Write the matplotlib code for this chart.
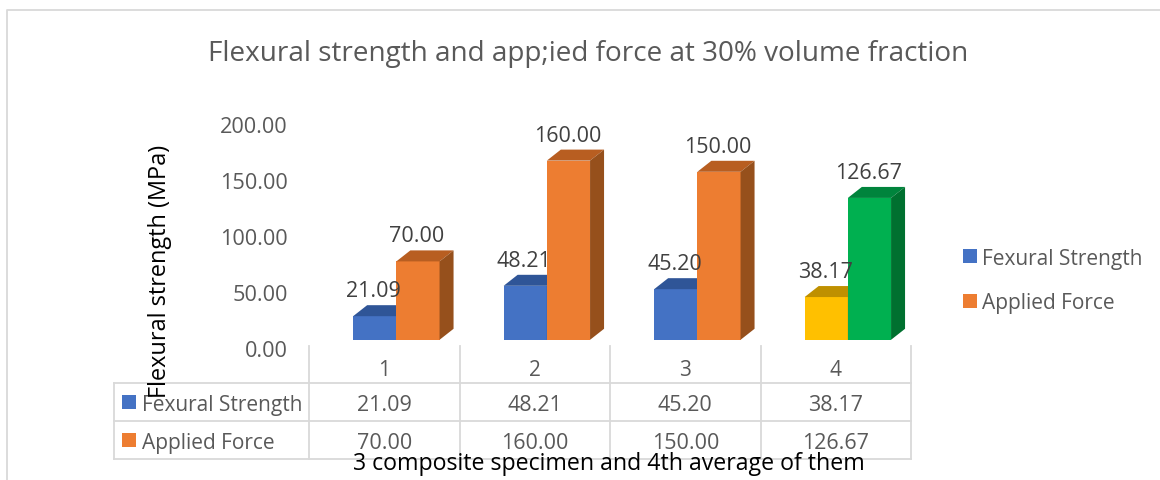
import matplotlib
matplotlib.use("Agg")
import matplotlib.pyplot as plt
from matplotlib.patches import Patch, Polygon, Rectangle
from matplotlib.transforms import Affine2D

categories = ["1", "2", "3", "4"]
flexural = [21.09, 48.21, 45.20, 38.17]
force = [70.00, 160.00, 150.00, 126.67]
series_names = ["Fexural Strength", "Applied Force"]
y_ticks = [0, 50, 100, 150, 200]

W, H = 1160, 481
plt.rcParams["font.family"] = ["Open Sans", "DejaVu Sans"]
GREY = "#595959"
LINE = "#d9d9d9"

# (front, top, side) shades
blue = ("#4472c4", "#2f5597", "#2a4c88")
orange = ("#ed7d31", "#b85e21", "#96501c")
gold = ("#ffc000", "#bf9000", "#a67d00")
green = ("#00b050", "#00843c", "#00702f")
colors_a = [blue, blue, blue, gold]
colors_b = [orange, orange, orange, green]

fig = plt.figure(figsize=(W / 100, H / 100), dpi=100, facecolor="white")
over = fig.add_axes([0, 0, 1, 1], zorder=0)
over.set_xlim(0, W)
over.set_ylim(H, 0)
over.axis("off")

# main axes: x from 309 to 911 px, y baseline 340.8 px, 1.12 px per unit
SCALE = 1.12
BASE = 340.8
top_px = BASE - 200 * SCALE
ax = fig.add_axes([309.1 / W, (H - BASE) / H, 602 / W, (BASE - top_px) / H], zorder=2)
ax.patch.set_visible(False)
ax.set_xlim(-0.5, 3.5)
ax.set_ylim(0, 200)
for s in ax.spines.values():
    s.set_visible(False)

bw = 43.2 / 150.5
shift = 12 / 150.5
dx = 14 / 150.5
dy = 11 / SCALE
xs = list(range(len(categories)))


def draw(series, cols, off, name):
    x = [i + shift + off for i in xs]
    bars = ax.bar(x, series, bw, color=[c[0] for c in cols], label=name, zorder=3, clip_on=False)
    for xi, v, c in zip(x, series, cols):
        l, r = xi - bw / 2, xi + bw / 2
        ax.add_patch(Polygon([(l, v), (r, v), (r + dx, v + dy), (l + dx, v + dy)],
                             closed=True, fc=c[1], ec="none", zorder=3, clip_on=False))
        ax.add_patch(Polygon([(r, 0), (r + dx, dy), (r + dx, v + dy), (r, v)],
                             closed=True, fc=c[2], ec="none", zorder=3, clip_on=False))
        ax.annotate(f"{v:.2f}", (xi, v), xytext=(-1, 25.5), textcoords="offset pixels",
                    ha="center", va="center", fontsize=15.5, color="#404040", zorder=6,
                    annotation_clip=False)
    return bars


draw(flexural, colors_a, -bw / 2, series_names[0])
draw(force, colors_b, bw / 2, series_names[1])

ax.set_xticks(xs, categories)
ax.set_yticks(y_ticks, [f"{v:.2f}" for v in y_ticks])
ax.tick_params(axis="x", length=0, pad=14, labelsize=15, labelcolor=GREY)
ax.tick_params(axis="y", length=0, pad=15.5, labelsize=15.6, labelcolor=GREY)
for lab in ax.get_yticklabels():
    lab.set_transform(lab.get_transform() + Affine2D().translate(0, -8))

ax.set_ylabel("Flexural strength (MPa)", fontsize=16.9, color="black")
ax.yaxis.set_label_coords(160.5, 271, transform=over.transData)
ax.yaxis.label.set_va("center")
ax.set_xlabel("3 composite specimen and 4th average of them", fontsize=16.7, color="black")
ax.xaxis.set_label_coords(609, 464, transform=over.transData)
ax.xaxis.label.set_va("center")
fig.suptitle("Flexural strength and app;ied force at 30% volume fraction",
             x=588 / W, y=1 - 54 / H, va="center", ha="center", fontsize=20.05, color=GREY)

# outer frame
over.plot([7, 7, 1160], [481, 11, 11], color=LINE, lw=1.3)

# data table
col_x = [114, 309, 459.5, 610, 760.5, 911]
row_y = [384, 422, 460]
for y in row_y:
    over.plot([col_x[0], col_x[-1]], [y, y], color=LINE, lw=1.3)
over.plot([col_x[0]] * 2, [row_y[0], row_y[-1]], color=LINE, lw=1.3)
for x in col_x[1:]:
    over.plot([x, x], [347, row_y[-1]], color=LINE, lw=1.3)
for r, (name, vals, key) in enumerate(zip(series_names, (flexural, force), (blue[0], orange[0]))):
    yc = (row_y[r] + row_y[r + 1]) / 2
    over.add_patch(Rectangle((122, yc - 7), 14, 14, fc=key, ec="none"))
    over.text(142, yc + 2.5, name, ha="left", va="center", fontsize=15, color=GREY)
    for c, v in enumerate(vals):
        over.text((col_x[c + 1] + col_x[c + 2]) / 2, yc + 2.5, f"{v:.2f}", ha="center", va="center",
                  fontsize=15.5, color=GREY)

# legend
handles = [Patch(fc=blue[0]), Patch(fc=orange[0])]
ax.legend(handles, series_names, loc="center left", bbox_to_anchor=(963, 281.5),
          bbox_transform=over.transData, frameon=False, fontsize=15, labelcolor=GREY,
          handlelength=0.68, handleheight=0.68, handletextpad=0.25, labelspacing=1.14,
          borderpad=0, borderaxespad=0)

fig.savefig("out.png", dpi=100)
